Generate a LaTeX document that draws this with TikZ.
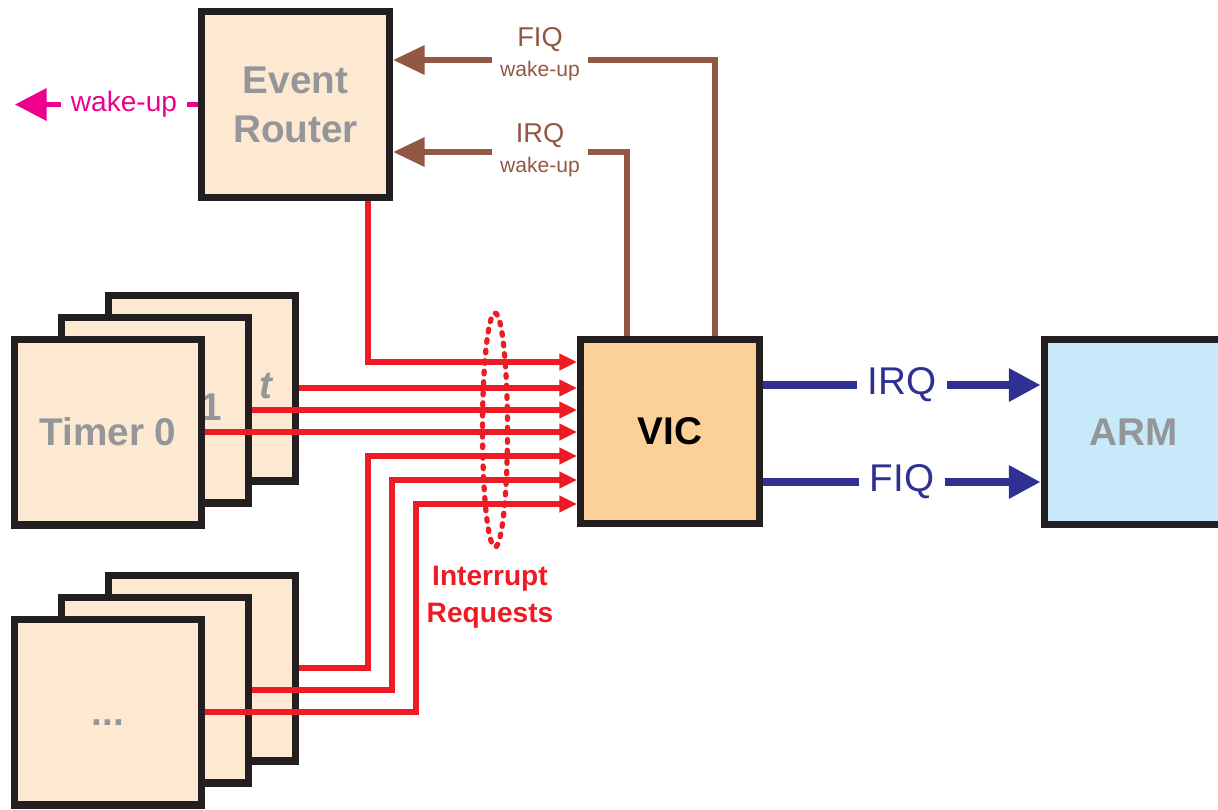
\documentclass[tikz,border=0pt]{standalone}
\usepackage{fontspec}
\setmainfont{Liberation Sans}
\usetikzlibrary{arrows.meta, shapes.geometric}
\definecolor{boxcol}{RGB}{253,233,210}
\definecolor{viccol}{RGB}{251,209,153}
\definecolor{armcol}{RGB}{199,233,249}
\definecolor{framecol}{RGB}{35,31,32}
\definecolor{greytext}{RGB}{148,150,153}
\definecolor{reqcol}{RGB}{237,28,36}
\definecolor{wakecol}{RGB}{146,88,68}
\definecolor{pinkcol}{RGB}{236,0,140}
\definecolor{cpucol}{RGB}{46,49,146}

\begin{document}
\begin{tikzpicture}[
    x=0.02cm, y=-0.02cm,
    box/.style={draw=framecol, line width=4pt, fill=boxcol, minimum width=3.76cm, minimum height=3.72cm,
        inner sep=0pt, align=center, text=greytext, font=\fontsize{22}{28}\selectfont\bfseries},
    boxtext/.style={inner sep=0pt, text=greytext, font=\fontsize{22}{28}\selectfont\bfseries},
    vicbox/.style={box, fill=viccol, text=black, minimum width=3.58cm, minimum height=3.68cm},
    armbox/.style={box, fill=armcol, minimum width=3.6cm, minimum height=3.7cm},
    reqflow/.style={draw=reqcol, line width=3.4pt, -{Triangle[length=10pt, width=9pt]}},
    ring/.style={draw=reqcol, ellipse, line width=3pt, dash pattern=on 1.5pt off 4.5pt, line cap=round,
        minimum width=0.5cm, minimum height=4.68cm, inner sep=0pt},
    reqtext/.style={text=reqcol, align=center, font=\fontsize{16}{21}\selectfont\bfseries},
    wakewire/.style={draw=wakecol, line width=3.6pt},
    wakeflow/.style={wakewire, -{Triangle[length=18pt, width=16pt]}},
    wakelabel/.style={text=wakecol, align=center, inner xsep=0.16cm, inner ysep=0pt,
        font=\fontsize{15.5}{17}\selectfont},
    pinkwire/.style={draw=pinkcol, line width=2.8pt},
    pinkflow/.style={pinkwire, -{Triangle[length=18pt, width=18pt]}},
    pinklabel/.style={text=pinkcol, inner xsep=0.2cm, font=\fontsize{16}{19}\selectfont},
    cpuwire/.style={draw=cpucol, line width=4.2pt},
    cpuflow/.style={cpuwire, -{Triangle[length=18pt, width=18pt]}},
    cpulabel/.style={text=cpucol, inner xsep=0.2cm, font=\fontsize{22}{26}\selectfont}
]
\useasboundingbox (0,0) rectangle (1218,809);

% Timer stacks
\node[box] (tback)  at (202,388) {};
\node[boxtext] (tbacklab) at (267,386) {\textit{t}};
\node[box] (tmid)   at (155,410) {};
\node[boxtext] (tmidlab) at (211,407) {1};
\node[box] (tfront) at (108,432) {Timer 0};

\node[box] (lback)  at (202,668) {};
\node[box] (lmid)   at (155,690) {};
\node[box] (lfront) at (108,712) {\vphantom{T}...};

% Main blocks
\node[box]    (router) at (295.5,104.5) {Event\\Router};
\node[vicbox] (vic)    at (670,431.5) {VIC};
\node[armbox] (arm)    at (1134,432) {ARM};

% Interrupt request lines into the VIC
\coordinate (bus1) at (368,362);
\coordinate (bus5) at (368,456);
\coordinate (bus6) at (392,480);
\coordinate (bus7) at (416,504);
\draw[reqflow] (router.south -| bus1) -- (bus1) -- (bus1 -| vic.west);
\draw[reqflow] (tback.east) -- (tback.east -| vic.west);
\draw[reqflow] (tmid.east) -- (tmid.east -| vic.west);
\draw[reqflow] (tfront.east) -- (tfront.east -| vic.west);
\draw[reqflow] (lback.east) -| (bus5) -- (bus5 -| vic.west);
\draw[reqflow] (lmid.east) -| (bus6) -- (bus6 -| vic.west);
\draw[reqflow] (lfront.east) -| (bus7) -- (bus7 -| vic.west);

\node[ring] (irqring) at (495,430) {};
\node[reqtext] (reqlab) at (490,597) {Interrupt\\Requests};

% Wake-up out of the router
\coordinate (wkout) at (15,104.5);
\node[pinklabel] (wklab) at (124,104.5) {wake-up};
\draw[pinkwire] (router.west) -- (wklab.east);
\draw[pinkflow] (wklab.west) -- (wkout);

% Wake-up back from the VIC
\coordinate (fiqbend) at (715,60);
\coordinate (irqbend) at (627,152);
\node[wakelabel] (fiqlab) at (540,54) {FIQ\\{\fontsize{12}{14}\selectfont wake-up}};
\node[wakelabel] (irqlab) at (540,150) {IRQ\\{\fontsize{12}{14}\selectfont wake-up}};
\draw[wakewire] (vic.north -| fiqbend) -- (fiqbend) -- (fiqbend -| fiqlab.east);
\draw[wakeflow] (fiqbend -| fiqlab.west) -- (fiqbend -| router.east);
\draw[wakewire] (vic.north -| irqbend) -- (irqbend) -- (irqbend -| irqlab.east);
\draw[wakeflow] (irqbend -| irqlab.west) -- (irqbend -| router.east);

% VIC to ARM
\node[cpulabel] (irqout) at (902,385) {IRQ};
\node[cpulabel] (fiqout) at (902,482) {FIQ};
\draw[cpuwire] (vic.east |- irqout) -- (irqout.west);
\draw[cpuflow] (irqout.east) -- (irqout -| arm.west);
\draw[cpuwire] (vic.east |- fiqout) -- (fiqout.west);
\draw[cpuflow] (fiqout.east) -- (fiqout -| arm.west);

\end{tikzpicture}
\end{document}
